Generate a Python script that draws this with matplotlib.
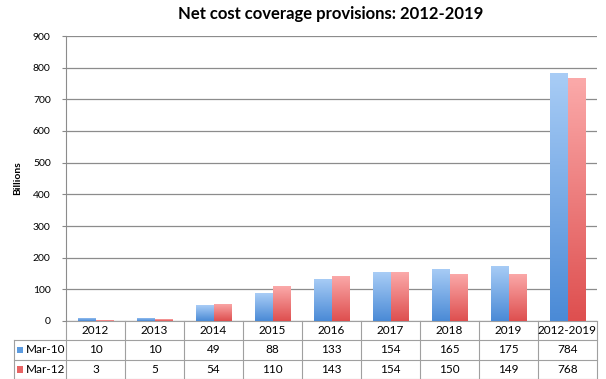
import numpy as np
import matplotlib
matplotlib.use("Agg")
import matplotlib.pyplot as plt
from matplotlib.colors import LinearSegmentedColormap

plt.rcParams['font.family'] = ['Lato', 'DejaVu Sans']

# --- data ---
categories = ['2012', '2013', '2014', '2015', '2016', '2017', '2018', '2019', '2012-2019']
series_names = ['Mar-10', 'Mar-12']
mar10 = [10, 10, 49, 88, 133, 154, 165, 175, 784]
mar12 = [3, 5, 54, 110, 143, 154, 150, 149, 768]

series_vals = [mar10, mar12]
grad_cols = [('#4a8ad6', '#a9cdf6'), ('#de4f4f', '#fbaaaa')]
legend_cols = ['#5b9be0', '#e86464']

fig = plt.figure(figsize=(6.06, 3.79), dpi=100)
ax = fig.add_axes([66/606, 58/379, 531/606, 285/379])

n = len(categories)
x = np.arange(n)
width = 0.29
ymax = 900

# each bar gets its own top-to-bottom gradient
grad = np.linspace(0, 1, 256).reshape(-1, 1)
for k, (vals, (c0, c1)) in enumerate(zip(series_vals, grad_cols)):
    cmap = LinearSegmentedColormap.from_list(f's{k}', [c0, c1])
    offs = (k - 0.5) * width
    bars = ax.bar(x + offs, vals, width, color='none', edgecolor='none', zorder=3)
    for b in bars:
        bx, bw, bh = b.get_x(), b.get_width(), b.get_height()
        im = ax.imshow(grad, extent=[bx, bx + bw, 0, bh], origin='lower',
                       cmap=cmap, aspect='auto', zorder=3)
        im.set_clip_path(b)

ax.set_xlim(-0.5, n - 0.5)
ax.set_ylim(0, ymax)
ax.set_yticks(np.arange(0, 901, 100))
ax.tick_params(axis='y', labelsize=7.5, length=3, color='#888888', pad=8)
ax.set_xticks([])
ax.yaxis.grid(True, color='#8c8c8c', linewidth=0.9)
ax.set_axisbelow(True)
for s in ['top', 'right', 'bottom']:
    ax.spines[s].set_visible(False)
ax.spines['left'].set_color('#8c8c8c')

ax.set_ylabel('Billions', fontsize=7.5, fontweight='bold', labelpad=8)
fig.text(331/606, 1 - 14/379, 'Net cost coverage provisions: 2012-2019',
         ha='center', va='center', fontsize=12, fontweight='bold')

# --- data table under the axes ---
h = 19.3 / 285
lw = 0.8
lc = '#a0a0a0'
lab_left = -52 / 531
kw = dict(transform=ax.transAxes, clip_on=False, color=lc, linewidth=lw)

ax.plot([0, 1], [0, 0], **kw)
ax.plot([lab_left, 1], [-h, -h], **kw)
ax.plot([lab_left, 1], [-2 * h, -2 * h], **kw)
ax.plot([lab_left, 1], [-3 * h, -3 * h], **kw)
for i in range(n + 1):
    ax.plot([i / n, i / n], [0, -3 * h], **kw)
ax.plot([lab_left, lab_left], [-h, -3 * h], **kw)

tfs = 8.5
for i, cat in enumerate(categories):
    ax.text((i + 0.5) / n, -0.5 * h, cat, transform=ax.transAxes,
            ha='center', va='center', fontsize=tfs)
    for r, vals in enumerate(series_vals):
        ax.text((i + 0.5) / n, -(r + 1.5) * h, str(vals[i]), transform=ax.transAxes,
                ha='center', va='center', fontsize=tfs)

for r, name in enumerate(series_names):
    yc = -(r + 1.5) * h
    ax.add_patch(plt.Rectangle((lab_left + 0.006, yc - 0.012), 0.011, 0.024,
                               transform=ax.transAxes, clip_on=False,
                               facecolor=legend_cols[r], edgecolor='none'))
    ax.text(lab_left + 0.022, yc, name, transform=ax.transAxes,
            ha='left', va='center', fontsize=tfs)

fig.savefig('out.png', dpi=100)
